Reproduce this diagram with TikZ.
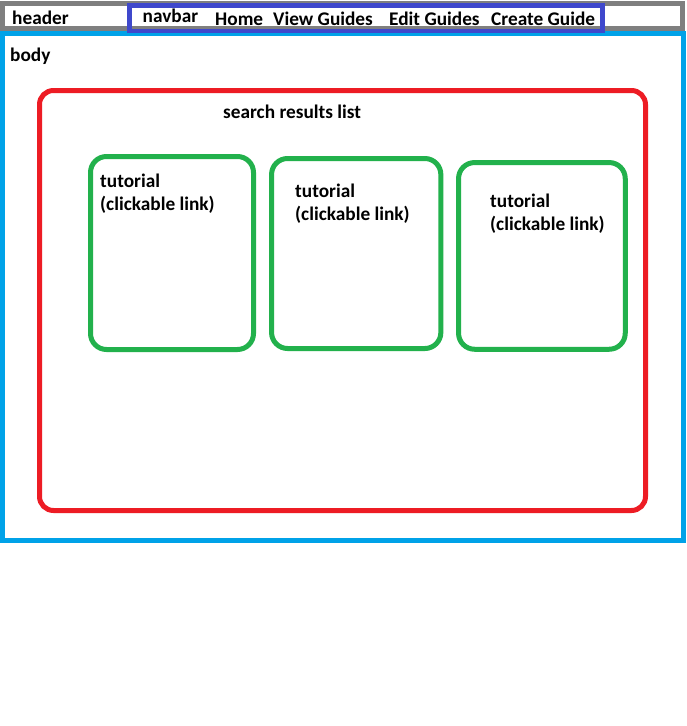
\documentclass[tikz,border=0pt]{standalone}
\usepackage{fontspec}
\setmainfont{Carlito}
\definecolor{hdrgray}{HTML}{7F7F7F}
\definecolor{navblue}{HTML}{3F48CC}
\definecolor{bodyblue}{HTML}{00A2E8}
\definecolor{resred}{HTML}{ED1C24}
\definecolor{tutgreen}{HTML}{22B14C}
\begin{document}
\begin{tikzpicture}[x=1pt,y=-1pt,
  lbl/.style={font=\bfseries\fontsize{19.3}{22}\selectfont, anchor=base west, inner sep=0pt, text=black},
  frame/.style={draw, rectangle, inner sep=0pt, outer sep=0pt, line width=5pt},
  hdrbox/.style={frame, draw=hdrgray},
  navbox/.style={frame, draw=navblue, line width=4.6pt},
  bodybox/.style={frame, draw=bodyblue},
  resbox/.style={frame, draw=resred, rounded corners=14pt},
  tutbox/.style={frame, draw=tutgreen, rounded corners=16pt}
]
\useasboundingbox (0,0) rectangle (686,726);
\fill[white] (0,0) rectangle (686,726);
% frames
\node[bodybox, minimum width=681pt, minimum height=507pt] (body) at (343,287) {};
\node[hdrbox, minimum width=680pt, minimum height=25.5pt] (header) at (342.5,15.75) {};
\node[navbox, minimum width=473pt, minimum height=25.5pt] (navbar) at (366,18.25) {};
\node[resbox, minimum width=606pt, minimum height=420pt] (results) at (342.5,300.5) {};
\node[tutbox, minimum width=163pt, minimum height=193pt] (tut1) at (172,253) {};
\node[tutbox, minimum width=169.3pt, minimum height=190pt] (tut2) at (356.2,253.5) {};
\node[tutbox, minimum width=166.7pt, minimum height=186.7pt] (tut3) at (541.9,255.9) {};
% labels
\node[lbl] (lheader) at (12,24.3) {header};
\node[lbl] (lnavbar) at (142.5,22.7) {navbar};
\node[lbl] (lhome) at (215,25) {Home};
\node[lbl] (lview) at (273,25) {View Guides};
\node[lbl] (ledit) at (389,25) {Edit Guides};
\node[lbl] (lcreate) at (491,25) {Create Guide};
\node[lbl] (lbody) at (10,61) {body};
\node[lbl] (lresults) at (223,118.3) {search results list};
\node[lbl] (t1a) at (100,187) {tutorial};
\node[lbl] (t1b) at (100,210.5) {(clickable link)};
\node[lbl] (t2a) at (295,197.7) {tutorial};
\node[lbl] (t2b) at (295,220.7) {(clickable link)};
\node[lbl] (t3a) at (490,207.7) {tutorial};
\node[lbl] (t3b) at (490,230.7) {(clickable link)};
\end{tikzpicture}
\end{document}
